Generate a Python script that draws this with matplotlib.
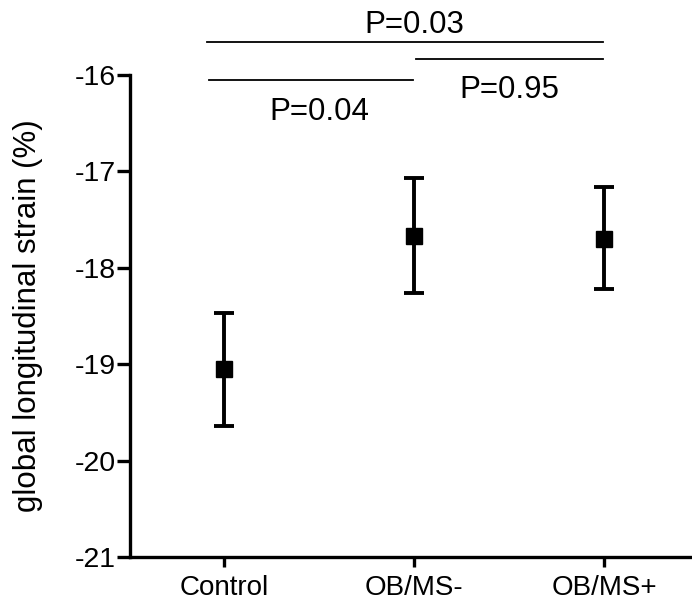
import matplotlib
matplotlib.use("Agg")
import matplotlib.pyplot as plt
import numpy as np

plt.rcParams['font.family'] = ['Liberation Sans', 'DejaVu Sans']

groups = ['Control', 'OB/MS-', 'OB/MS+']
means = [-19.05, -17.67, -17.70]
upper = [-18.47, -17.07, -17.16]
lower = [-19.64, -18.26, -18.22]
yticks = [-21, -20, -19, -18, -17, -16]
p_labels = ['P=0.04', 'P=0.95', 'P=0.03']
p_pairs = [(0, 1), (1, 2), (0, 2)]

W, H = 692, 605
fig = plt.figure(figsize=(W / 100, H / 100), dpi=100)
ax = fig.add_axes([130 / W, 48 / H, 560 / W, 482 / H])

x = np.arange(len(groups))
m = np.array(means)
yerr = [m - np.array(lower), np.array(upper) - m]
ax.errorbar(x, m, yerr=yerr, fmt='s', color='black', ms=11, elinewidth=2.8,
            capsize=7.5, capthick=2.8, clip_on=False, zorder=3)

ax.set_xlim(-0.495, 2.453)
ax.set_ylim(-21, -16)
ax.set_xticks(x)
ax.set_xticklabels(groups, fontsize=20)
ax.set_yticks(yticks)
ax.set_yticklabels([str(t) for t in yticks], fontsize=20.5)
ax.tick_params(axis='both', width=2.4, color='black')
ax.tick_params(axis='y', length=9.5, pad=1)
ax.tick_params(axis='x', length=7.2, pad=6)
for s in ['top', 'right']:
    ax.spines[s].set_visible(False)
for s in ['left', 'bottom']:
    ax.spines[s].set_linewidth(2.4)
ax.set_ylabel('global longitudinal strain (%)', fontsize=22.5)
ax.yaxis.set_label_coords(-0.155, 0.5)

# significance brackets
levels = [-16.052, -15.837, -15.658]
starts = [-0.08, 1.01, -0.09]
ends = [0.995, 1.995, 1.995]
text_y = [-16.23, -16.0, -15.56]
text_va = ['top', 'top', 'baseline']
for (i, j), lab, lv, s0, e0, ty, va in zip(p_pairs, p_labels, levels, starts, ends, text_y, text_va):
    ax.plot([s0, e0], [lv, lv], color='black', lw=1.3, clip_on=False)
    ax.text((i + j) / 2, ty, lab, ha='center', va=va, fontsize=22.5, clip_on=False)

fig.savefig('out.png', dpi=100)
